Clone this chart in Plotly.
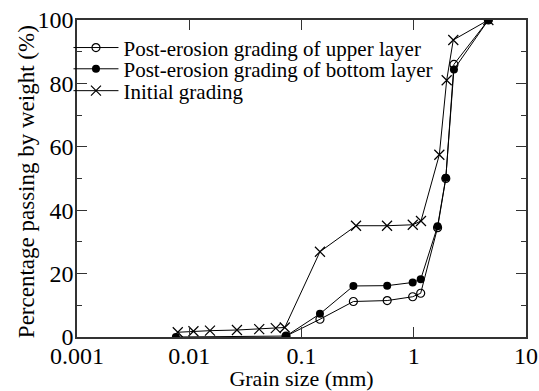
import plotly.graph_objects as go

# Grain size (mm) and percentage passing (%)
upper_x = [0.0728, 0.146, 0.29, 0.58, 0.978, 1.153, 1.63, 1.93, 2.28, 4.62]
upper_y = [0.3, 5.6, 11.2, 11.5, 12.7, 13.8, 34.5, 50.0, 86.0, 100]

bottom_x = [0.0076, 0.0728, 0.146, 0.29, 0.58, 0.978, 1.153, 1.63, 1.93, 2.28, 4.62]
bottom_y = [0.0, 0.3, 7.3, 16.1, 16.2, 17.2, 18.2, 34.9, 50.2, 84.4, 100]

initial_x = [0.0079, 0.0109, 0.0153, 0.0266, 0.042, 0.059, 0.071, 0.146, 0.306,
             0.578, 0.98, 1.16, 1.69, 1.965, 2.25, 4.62]
initial_y = [1.5, 1.8, 2.0, 2.2, 2.5, 2.8, 3.0, 26.9, 35.1, 35.1, 35.4, 36.6,
             57.5, 81.0, 93.7, 100]

x_ticks = [0.001, 0.01, 0.1, 1, 10]
x_ticktext = ["0.001", "0.01", "0.1", "1", "10"]
y_ticks = [0, 20, 40, 60, 80, 100]

names = ["Post-erosion grading of upper layer",
         "Post-erosion grading of bottom layer",
         "Initial grading"]
x_title = "Grain size (mm)"
y_title = "Percentage passing by weight (%)"

FONT = "Liberation Serif"

fig = go.Figure()
fig.add_trace(go.Scatter(
    x=upper_x, y=upper_y, name=names[0], mode="lines+markers", legend="legend",
    line=dict(color="black", width=1),
    marker=dict(symbol="circle-open", size=8, color="black", line=dict(width=1.2))))
fig.add_trace(go.Scatter(
    x=bottom_x, y=bottom_y, name=names[1], mode="lines+markers", legend="legend2",
    line=dict(color="black", width=1),
    marker=dict(symbol="circle", size=8, color="black")))
fig.add_trace(go.Scatter(
    x=initial_x, y=initial_y, name=names[2], mode="lines+markers", legend="legend3",
    line=dict(color="black", width=1),
    marker=dict(symbol="x-thin-open", size=10, color="black", line=dict(width=1.2, color="black"))))

leg_common = dict(x=-0.019, xanchor="left", yanchor="middle",
                  bgcolor="rgba(0,0,0,0)", font=dict(size=21, family=FONT),
                  itemwidth=45)

fig.update_layout(
    width=539, height=391,
    margin=dict(l=77, r=13, t=20, b=54),
    paper_bgcolor="white", plot_bgcolor="white",
    font=dict(family=FONT, color="black", size=18),
    showlegend=True,
    legend=dict(y=0.912, **leg_common),
    legend2=dict(y=0.845, **leg_common),
    legend3=dict(y=0.776, **leg_common),
    annotations=[dict(text=y_title, xref="paper", yref="paper",
                      x=-0.111, y=0.489, xanchor="center", yanchor="middle",
                      textangle=-90, showarrow=False,
                      font=dict(size=23, family=FONT, color="black"))],
)
fig.update_xaxes(
    type="log", range=[-3, 1], tickvals=x_ticks, ticktext=x_ticktext,
    ticks="inside", ticklen=10, tickwidth=1, tickcolor="#333",
    showline=True, linecolor="#333", linewidth=1.5, mirror="ticks",
    showgrid=False, zeroline=False, automargin=False,
    tickfont=dict(size=24, family=FONT), ticklabelstandoff=-4,
    title=dict(text=x_title, font=dict(size=22, family=FONT), standoff=4),
)
fig.update_yaxes(
    range=[0, 100], tickvals=y_ticks,
    ticks="inside", ticklen=10, tickwidth=1, tickcolor="#333",
    minor=dict(dtick=10, ticks="inside", ticklen=5, tickcolor="#333", showgrid=False),
    showline=True, linecolor="#333", linewidth=1.5, mirror="ticks",
    showgrid=False, zeroline=False, automargin=False,
    tickfont=dict(size=24, family=FONT), ticklabelstandoff=-3,
)

fig.write_html("out.html")
